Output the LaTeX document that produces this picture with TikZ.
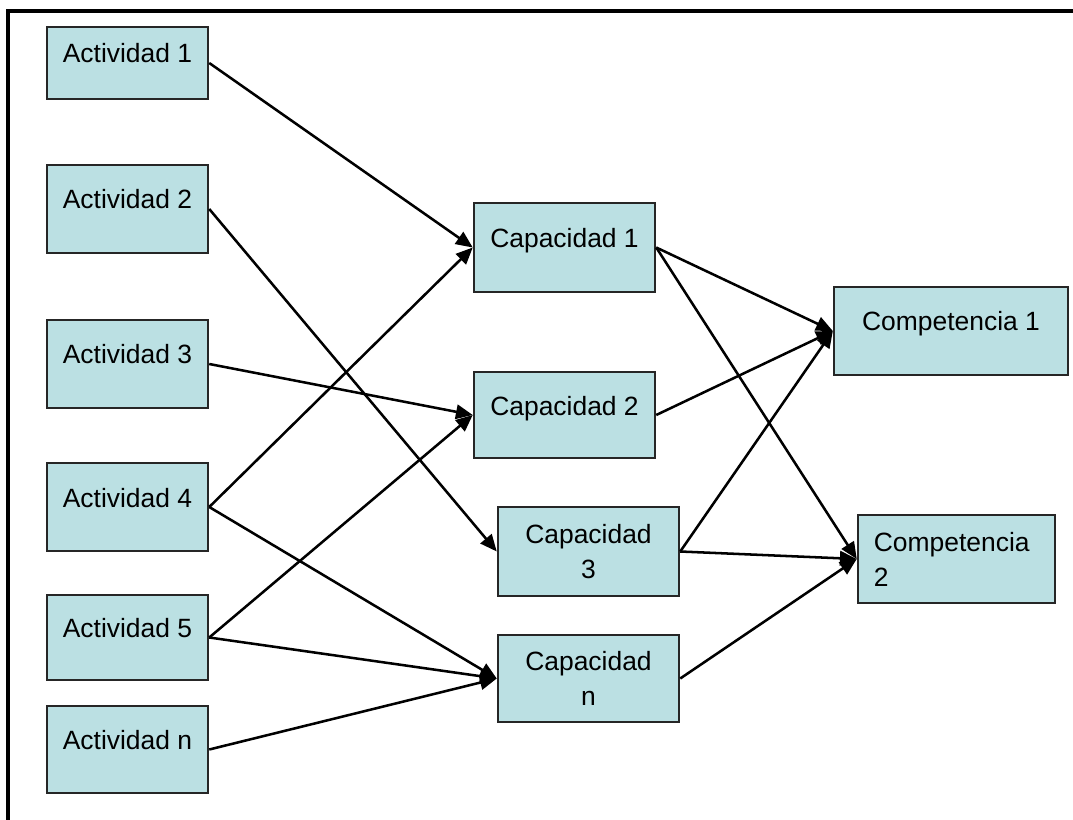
\documentclass[tikz,border=0pt]{standalone}
\usepackage{fontspec}
\setmainfont{Liberation Sans}
\usetikzlibrary{arrows.meta}
\definecolor{cajafill}{RGB}{187,224,227}
\tikzset{
  caja/.style={draw=black!85, line width=1.6pt, fill=cajafill, minimum height=2.2cm,
    align=center, font=\fontsize{18.8}{24.9}\selectfont},
  unalinea/.style={text height=0.3cm, text depth=0.3cm},
  flecha/.style={line width=1.8pt, -{Triangle[length=4.2mm,width=3.6mm]}}
}
\begin{document}
\begin{tikzpicture}[x=0.025cm,y=-0.025cm]
      \useasboundingbox (0,0) rectangle (1073,820);
      \draw[line width=2.4pt] (8,820) -- (8,11) -- (1073,11);
      % actividades
      \node[caja,unalinea,minimum width=4.03cm,minimum height=1.8cm] (act1) at (127.5,63) {Actividad 1};
      \node[caja,unalinea,minimum width=4.03cm] (act2) at (127.5,209) {Actividad 2};
      \node[caja,unalinea,minimum width=4.03cm] (act3) at (127.5,364) {Actividad 3};
      \node[caja,unalinea,minimum width=4.03cm] (act4) at (127.5,507) {Actividad 4};
      \node[caja,unalinea,minimum width=4.03cm,minimum height=2.13cm] (act5) at (127.5,637.5) {Actividad 5};
      \node[caja,unalinea,minimum width=4.03cm,minimum height=2.18cm] (actn) at (127.5,749.5) {Actividad n};
      % capacidades
      \node[caja,unalinea,minimum width=4.53cm,minimum height=2.23cm] (cap1) at (564.5,247.5) {Capacidad 1};
      \node[caja,unalinea,minimum width=4.53cm,minimum height=2.15cm] (cap2) at (564.5,415) {Capacidad 2};
      \node[caja,minimum width=4.53cm,minimum height=2.23cm] (cap3) at (588.5,551.5) {Capacidad\\3};
      \node[caja,minimum width=4.53cm,minimum height=2.18cm] (capn) at (588.5,678.5) {Capacidad\\n};
      % competencias
      \node[caja,unalinea,minimum width=5.85cm] (comp1) at (951,331) {Competencia 1};
      \node[caja,align=left,inner xsep=0.4cm,text width=4.13cm] (comp2) at (956.5,559) {Competencia\\2};
      % flechas
      \draw[flecha] (act1.east) -- (cap1.west);
      \draw[flecha] (act2.east) -- (cap3.west);
      \draw[flecha] (act3.east) -- (cap2.west);
      \draw[flecha] (act4.east) -- (cap1.west);
      \draw[flecha] (act4.east) -- (capn.west);
      \draw[flecha] (act5.east) -- (cap2.west);
      \draw[flecha] (act5.east) -- (capn.west);
      \draw[flecha] (actn.east) -- (capn.west);
      \draw[flecha] (cap1.east) -- (comp1.west);
      \draw[flecha] (cap1.east) -- (comp2.west);
      \draw[flecha] (cap2.east) -- (comp1.west);
      \draw[flecha] (cap3.east) -- (comp1.west);
      \draw[flecha] (cap3.east) -- (comp2.west);
      \draw[flecha] (capn.east) -- (comp2.west);
\end{tikzpicture}
\end{document}
